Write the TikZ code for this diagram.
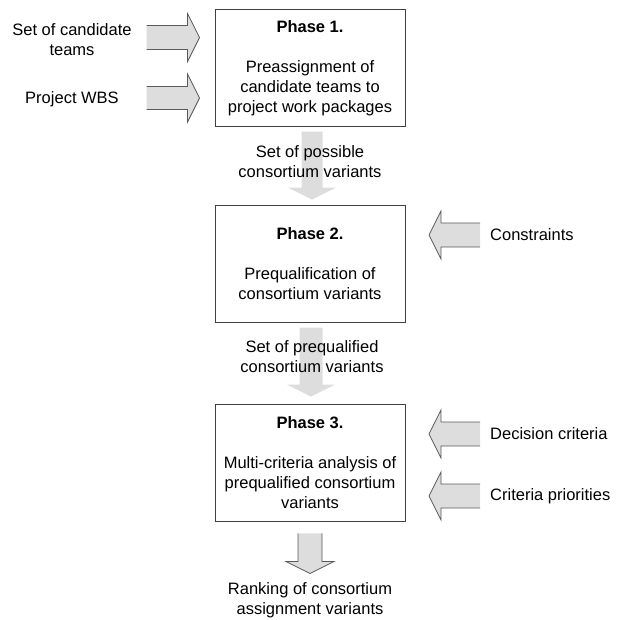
\documentclass[tikz,border=0pt]{standalone}
\usepackage{fontspec}
\setmainfont{Liberation Sans}
\usetikzlibrary{calc,backgrounds}

\definecolor{arrowgray}{RGB}{221,221,221}
\definecolor{edgegray}{RGB}{90,90,90}

\begin{document}
\begin{tikzpicture}[x=1pt,y=-1pt]
\tikzset{
    phase/.style={draw=black!75, line width=0.9pt, minimum width=190pt, minimum height=117pt, inner sep=0pt, align=center, font=\fontsize{16.5}{20}\selectfont},
    txt/.style={align=center, inner sep=0pt, font=\fontsize{16.5}{20}\selectfont},
    blockarrow/.style={draw=edgegray, fill=arrowgray, line width=0.8pt, line join=miter},
    linkarrow/.style={fill=arrowgray},
    pics/barrow/.style args={#1/#2}{code={
        \path[pic actions] (-#1,-#2) -- (-12,-#2) -- (-12,-24) -- (0,0) -- (-12,24) -- (-12,#2) -- (-#1,#2);
    }}
}
\useasboundingbox (0,0) rectangle (623,619);

\node[phase] (ph1) at (310,68) {\textbf{Phase 1.}\\[20pt]Preassignment of\\candidate teams to\\project work packages};
\node[phase] (ph2) at (310,263.5) {\textbf{Phase 2.}\\[20pt]Prequalification of\\consortium variants};
\node[phase] (ph3) at (310,462.5) {\textbf{Phase 3.}\\[20pt]Multi-criteria analysis of\\prequalified consortium\\variants};

\node[txt] (cand) at (72,40) {Set of candidate\\teams};
\node[txt] (wbs) at (72,99) {Project WBS};
\node[txt] (poss) at (310,162) {Set of possible\\consortium variants};
\node[txt] (preq) at (312,357) {Set of prequalified\\consortium variants};
\node[txt,anchor=west] (constr) at (490,235) {Constraints};
\node[txt,anchor=west] (crit) at (490,434) {Decision criteria};
\node[txt,anchor=west] (prio) at (490,496) {Criteria priorities};
\node[txt] (rank) at (310,600) {Ranking of consortium\\assignment variants};

\begin{scope}[on background layer]
\pic[blockarrow] at ($(ph1.west)+(-15,-30.5)$) {barrow=53/12};
\pic[blockarrow] at ($(ph1.west)+(-15,30)$) {barrow=53/11.5};

\pic[linkarrow,rotate=-90] at ($(ph2.north)+(2,-5)$) {barrow=68/10.5};
\pic[linkarrow,rotate=-90] at ($(ph3.north)+(1,-7)$) {barrow=69/11.5};

\pic[blockarrow,rotate=180] at ($(constr.west)+(-61,0)$) {barrow=51/12};
\pic[blockarrow,rotate=180] at ($(crit.west)+(-61,0)$) {barrow=51/12};
\pic[blockarrow,rotate=180] at ($(prio.west)+(-61,0)$) {barrow=51/12};

\pic[blockarrow,rotate=-90] at ($(ph3.south)+(0,52)$) {barrow=40/12};
\end{scope}

\end{tikzpicture}
\end{document}
